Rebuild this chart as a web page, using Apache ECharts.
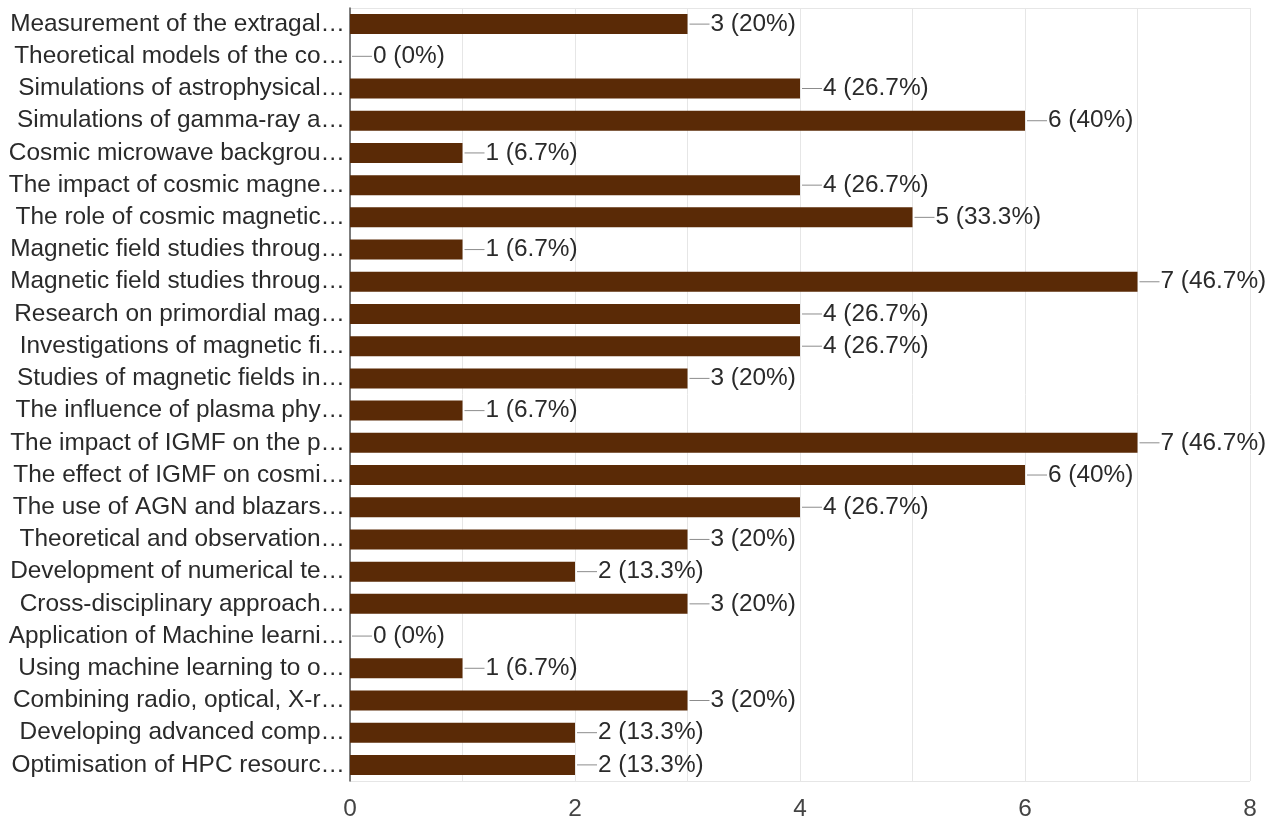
<!DOCTYPE html>
<html>
<head>
<meta charset="utf-8">
<script src="https://cdn.jsdelivr.net/npm/echarts@6/dist/echarts.min.js"></script>
<style>
  html, body { margin: 0; padding: 0; background: #fff; }
  #chart { width: 1277px; height: 821px; }
</style>
</head>
<body>
<div id="chart"></div>
<script>
// Survey topics (labels truncated as displayed)
const topics = [
  'Measurement of the extragal…',
  'Theoretical models of the co…',
  'Simulations of astrophysical…',
  'Simulations of gamma-ray a…',
  'Cosmic microwave backgrou…',
  'The impact of cosmic magne…',
  'The role of cosmic magnetic…',
  'Magnetic field studies throug…',
  'Magnetic field studies throug…',
  'Research on primordial mag…',
  'Investigations of magnetic fi…',
  'Studies of magnetic fields in…',
  'The influence of plasma phy…',
  'The impact of IGMF on the p…',
  'The effect of IGMF on cosmi…',
  'The use of AGN and blazars…',
  'Theoretical and observation…',
  'Development of numerical te…',
  'Cross-disciplinary approach…',
  'Application of Machine learni…',
  'Using machine learning to o…',
  'Combining radio, optical, X-r…',
  'Developing advanced comp…',
  'Optimisation of HPC resourc…'
];

// Number of respondents selecting each topic
const counts = [3, 0, 4, 6, 1, 4, 5, 1, 7, 4, 4, 3, 1, 7, 6, 4, 3, 2, 3, 0, 1, 3, 2, 2];

// Total respondents, used for the percentage in each label
const totalRespondents = 15;

// Value axis tick labels
const axisTicks = [0, 2, 4, 6, 8];

const chart = echarts.init(document.getElementById('chart'));
const FONT = 'Liberation Sans, Arial, sans-serif';
const FS = 24.4;

function pct(v) {
  const p = Math.round(v / totalRespondents * 1000) / 10;
  return p + '%';
}

chart.setOption({
  animation: false,
  grid: { left: 350, right: 27, top: 8, bottom: 40, containLabel: false },
  xAxis: {
    type: 'value',
    min: 0,
    max: 8,
    interval: 1,
    axisLine: { show: false },
    axisTick: { show: false },
    splitLine: { show: true, lineStyle: { color: '#e6e6e6', width: 1 } },
    axisLabel: {
      color: '#444',
      fontSize: FS,
      fontFamily: FONT,
      margin: 16,
      formatter: v => (axisTicks.indexOf(v) >= 0 ? String(v) : '')
    }
  },
  yAxis: {
    type: 'category',
    data: topics,
    inverse: true,
    axisLine: { show: true, lineStyle: { color: '#555', width: 1.5 } },
    axisTick: { show: false },
    splitLine: { show: false },
    axisLabel: {
      color: '#2a2a2a',
      fontSize: FS,
      fontFamily: FONT,
      margin: 5
    }
  },
  series: [{
    type: 'bar',
    data: counts,
    barWidth: 20,
    itemStyle: { color: '#5a2a06' },
    label: {
      show: true,
      position: 'right',
      distance: 2,
      color: '#2a2a2a',
      fontSize: FS,
      fontFamily: FONT,
      formatter: p => '{l|}{t|' + p.value + ' (' + pct(p.value) + ')}',
      rich: {
        l: { width: 20, height: 1, backgroundColor: '#8c8c8c', verticalAlign: 'middle' },
        t: { fontSize: FS, color: '#2a2a2a', fontFamily: FONT, padding: [0, 0, 0, 1] }
      }
    }
  }]
});

// Light frame along the top and bottom of the plot area
const gridRect = chart.getModel().getComponent('grid').coordinateSystem.getRect();
chart.setOption({
  graphic: [
    { type: 'line', shape: { x1: gridRect.x, y1: gridRect.y + 0.5, x2: gridRect.x + gridRect.width, y2: gridRect.y + 0.5 }, style: { stroke: '#e6e6e6', lineWidth: 1 }, z: 0 },
    { type: 'line', shape: { x1: gridRect.x, y1: gridRect.y + gridRect.height + 0.5, x2: gridRect.x + gridRect.width, y2: gridRect.y + gridRect.height + 0.5 }, style: { stroke: '#e6e6e6', lineWidth: 1 }, z: 0 }
  ]
});
</script>
</body>
</html>
